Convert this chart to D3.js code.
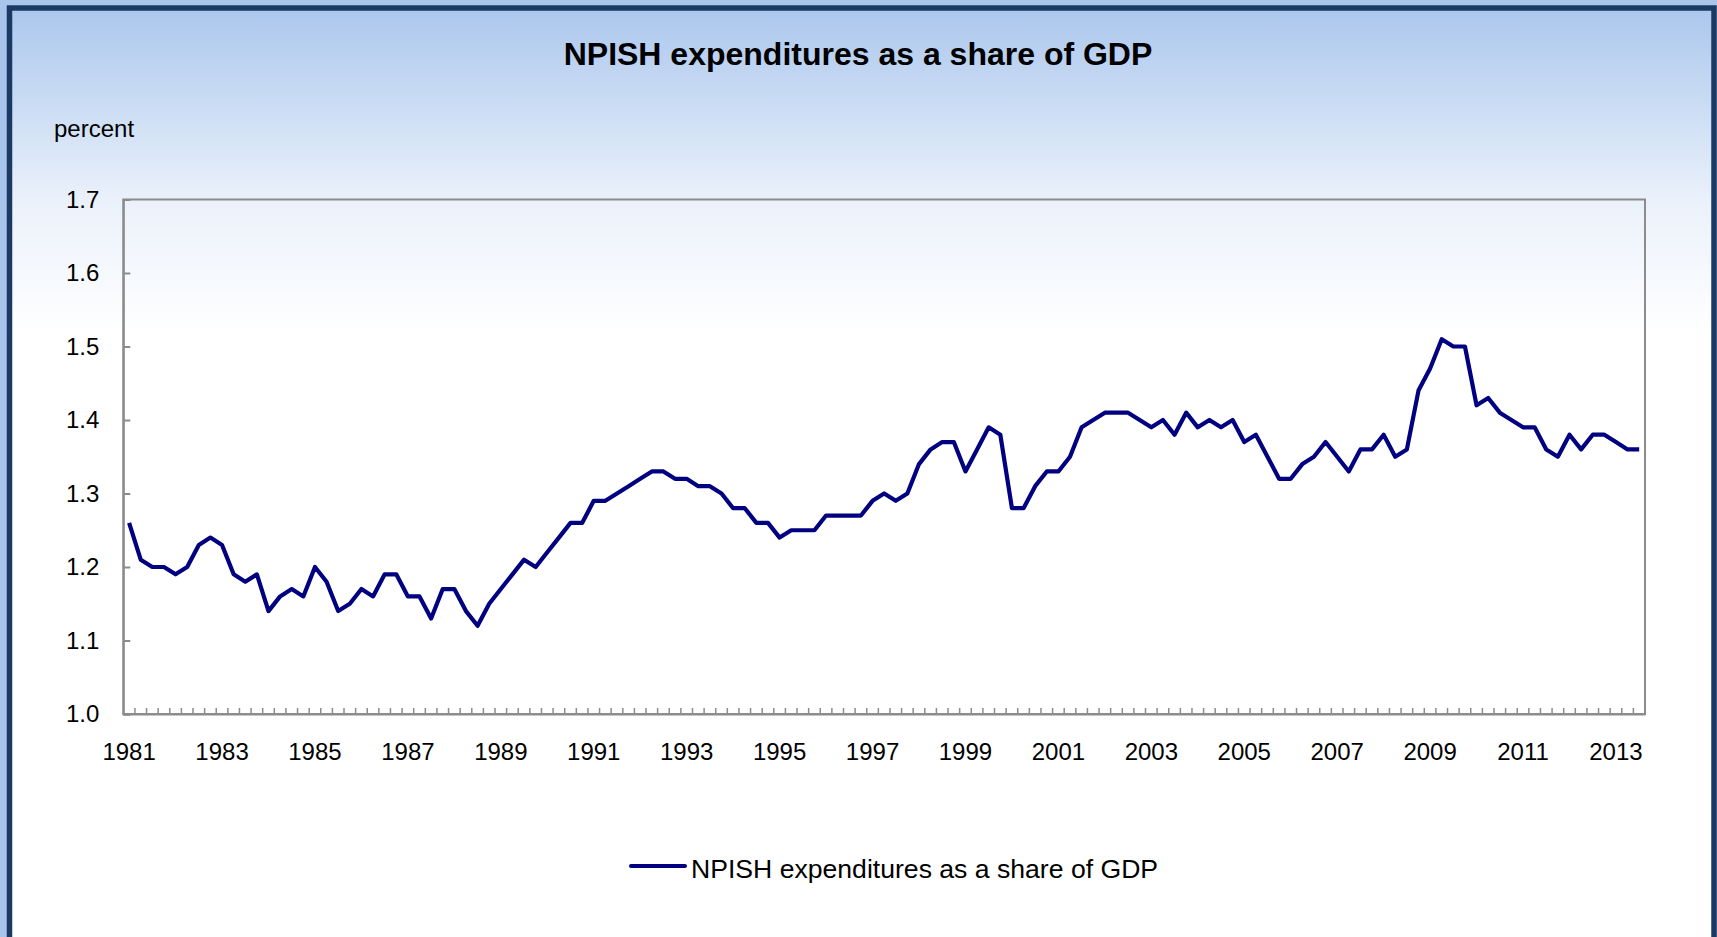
<!DOCTYPE html>
<html>
<head>
<meta charset="utf-8">
<script src="https://cdn.jsdelivr.net/npm/d3@7"></script>
<style>
  html, body { margin: 0; padding: 0; background: #a9c5ec; overflow: hidden; }
  text { font-family: "Liberation Sans", Arial, sans-serif; }
</style>
</head>
<body>
<script>
// quarterly series, 1981Q1 .. 2013Q3
const startYear = 1981
const npishShare = [
  1.26, 1.21, 1.20, 1.20, 1.19, 1.20, 1.23, 1.24, 1.23, 1.19, 1.18, 1.19,
  1.14, 1.16, 1.17, 1.16, 1.20, 1.18, 1.14, 1.15, 1.17, 1.16, 1.19, 1.19,
  1.16, 1.16, 1.13, 1.17, 1.17, 1.14, 1.12, 1.15, 1.17, 1.19, 1.21, 1.20,
  1.22, 1.24, 1.26, 1.26, 1.29, 1.29, 1.30, 1.31, 1.32, 1.33, 1.33, 1.32,
  1.32, 1.31, 1.31, 1.30, 1.28, 1.28, 1.26, 1.26, 1.24, 1.25, 1.25, 1.25,
  1.27, 1.27, 1.27, 1.27, 1.29, 1.30, 1.29, 1.30, 1.34, 1.36, 1.37, 1.37,
  1.33, 1.36, 1.39, 1.38, 1.28, 1.28, 1.31, 1.33, 1.33, 1.35, 1.39, 1.40,
  1.41, 1.41, 1.41, 1.40, 1.39, 1.40, 1.38, 1.41, 1.39, 1.40, 1.39, 1.40,
  1.37, 1.38, 1.35, 1.32, 1.32, 1.34, 1.35, 1.37, 1.35, 1.33, 1.36, 1.36,
  1.38, 1.35, 1.36, 1.44, 1.47, 1.51, 1.50, 1.50, 1.42, 1.43, 1.41, 1.40,
  1.39, 1.39, 1.36, 1.35, 1.38, 1.36, 1.38, 1.38, 1.37, 1.36, 1.36
]
const tickYears = ['1981', '1983', '1985', '1987', '1989', '1991', '1993', '1995', '1997',
  '1999', '2001', '2003', '2005', '2007', '2009', '2011', '2013']
const yTicks = [1.0, 1.1, 1.2, 1.3, 1.4, 1.5, 1.6, 1.7]
const title = 'NPISH expenditures as a share of GDP'
const seriesName = 'NPISH expenditures as a share of GDP'

const quarters = npishShare.map((d, i) => (startYear + Math.floor(i / 4)) + 'Q' + (i % 4 + 1))
const data = quarters.map((q, i) => ({ q: q, v: npishShare[i] }))

const width = 1717
const height = 937
const plot = { left: 123.3, right: 1645, top: 199.5, bottom: 714 }

const svg = d3.select('body')
  .append('svg')
  .attr('width', width)
  .attr('height', height)

// background gradient
const grad = svg.append('defs').append('linearGradient')
  .attr('id', 'bg')
  .attr('gradientUnits', 'userSpaceOnUse')
  .attr('x1', 0).attr('x2', 0).attr('y1', 0).attr('y2', height)
grad.append('stop').attr('offset', 0).attr('stop-color', '#a9c5ec')
grad.append('stop').attr('offset', 0.13).attr('stop-color', '#d0e0f5')
grad.append('stop').attr('offset', 0.22).attr('stop-color', '#ecf2fb')
grad.append('stop').attr('offset', 0.36).attr('stop-color', '#ffffff')
grad.append('stop').attr('offset', 1).attr('stop-color', '#ffffff')

svg.append('rect')
  .attr('width', width).attr('height', height)
  .attr('fill', '#a9c5ec')

svg.append('rect')
  .attr('x', 9.5).attr('y', 8)
  .attr('width', 1704.5).attr('height', 960)
  .attr('fill', 'url(#bg)')
  .attr('stroke', '#1b3a63')
  .attr('stroke-width', 5.5)

// scales
const x = d3.scaleBand()
  .domain(quarters)
  .range([plot.left, plot.right])
  .padding(0)
const y = d3.scaleLinear()
  .domain([1.0, 1.7])
  .range([plot.bottom, plot.top])

// plot frame
svg.append('rect')
  .attr('x', plot.left).attr('y', plot.top)
  .attr('width', plot.right - plot.left)
  .attr('height', plot.bottom - plot.top)
  .attr('fill', 'none')
  .attr('stroke', '#8c8c8c')
  .attr('stroke-width', 2)

// y axis
const yAxis = svg.append('g')
  .attr('transform', `translate(${plot.left},0)`)
  .call(d3.axisLeft(y).tickValues(yTicks).tickSize(-7).tickPadding(24).tickFormat(d3.format('.1f')))
yAxis.select('.domain').attr('stroke', '#8c8c8c').attr('stroke-width', 2)
yAxis.selectAll('.tick line').attr('stroke', '#8c8c8c').attr('stroke-width', 2)
yAxis.selectAll('.tick text')
  .attr('fill', '#000')
  .style('font-size', '24px')
  .style('font-family', '"Liberation Sans", Arial, sans-serif')

// x axis: labels every 2 years, ticks between categories
const labelQuarters = quarters.filter(q => tickYears.includes(q.slice(0, 4)) && q.endsWith('Q1'))
const xAxis = svg.append('g')
  .attr('transform', `translate(0,${plot.bottom})`)
  .call(d3.axisBottom(x).tickValues(labelQuarters).tickSize(0).tickPadding(29).tickFormat(q => q.slice(0, 4)))
xAxis.select('.domain').attr('stroke', '#8c8c8c').attr('stroke-width', 2)
xAxis.selectAll('.tick text')
  .attr('fill', '#000')
  .style('font-size', '24px')
  .style('font-family', '"Liberation Sans", Arial, sans-serif')

svg.append('g')
  .selectAll('line')
  .data(quarters.slice(1))
  .enter()
  .append('line')
  .attr('x1', d => x(d)).attr('x2', d => x(d))
  .attr('y1', plot.bottom).attr('y2', plot.bottom - 6)
  .attr('stroke', '#8c8c8c')
  .attr('stroke-width', 1.5)

// series
const line = d3.line()
  .x(d => x(d.q) + x.bandwidth() / 2)
  .y(d => y(d.v))
svg.append('path')
  .datum(data)
  .attr('d', line)
  .attr('fill', 'none')
  .attr('stroke', '#000080')
  .attr('stroke-width', 4.2)
  .attr('stroke-linejoin', 'round')

// title and unit
svg.append('text')
  .attr('x', 858).attr('y', 65)
  .attr('text-anchor', 'middle')
  .style('font-size', '32px')
  .style('font-weight', 'bold')
  .attr('fill', '#000')
  .text(title)

svg.append('text')
  .attr('x', 54).attr('y', 137)
  .style('font-size', '24px')
  .attr('fill', '#000')
  .text('percent')

// legend
const legend = svg.append('g').attr('transform', 'translate(631,866)')
legend.append('line')
  .attr('x1', 0).attr('x2', 54)
  .attr('y1', 0).attr('y2', 0)
  .attr('stroke', '#000080')
  .attr('stroke-width', 4)
  .attr('stroke-linecap', 'round')
legend.append('text')
  .attr('x', 60).attr('y', 12)
  .style('font-size', '26.6px')
  .attr('fill', '#000')
  .text(seriesName)
</script>
</body>
</html>
